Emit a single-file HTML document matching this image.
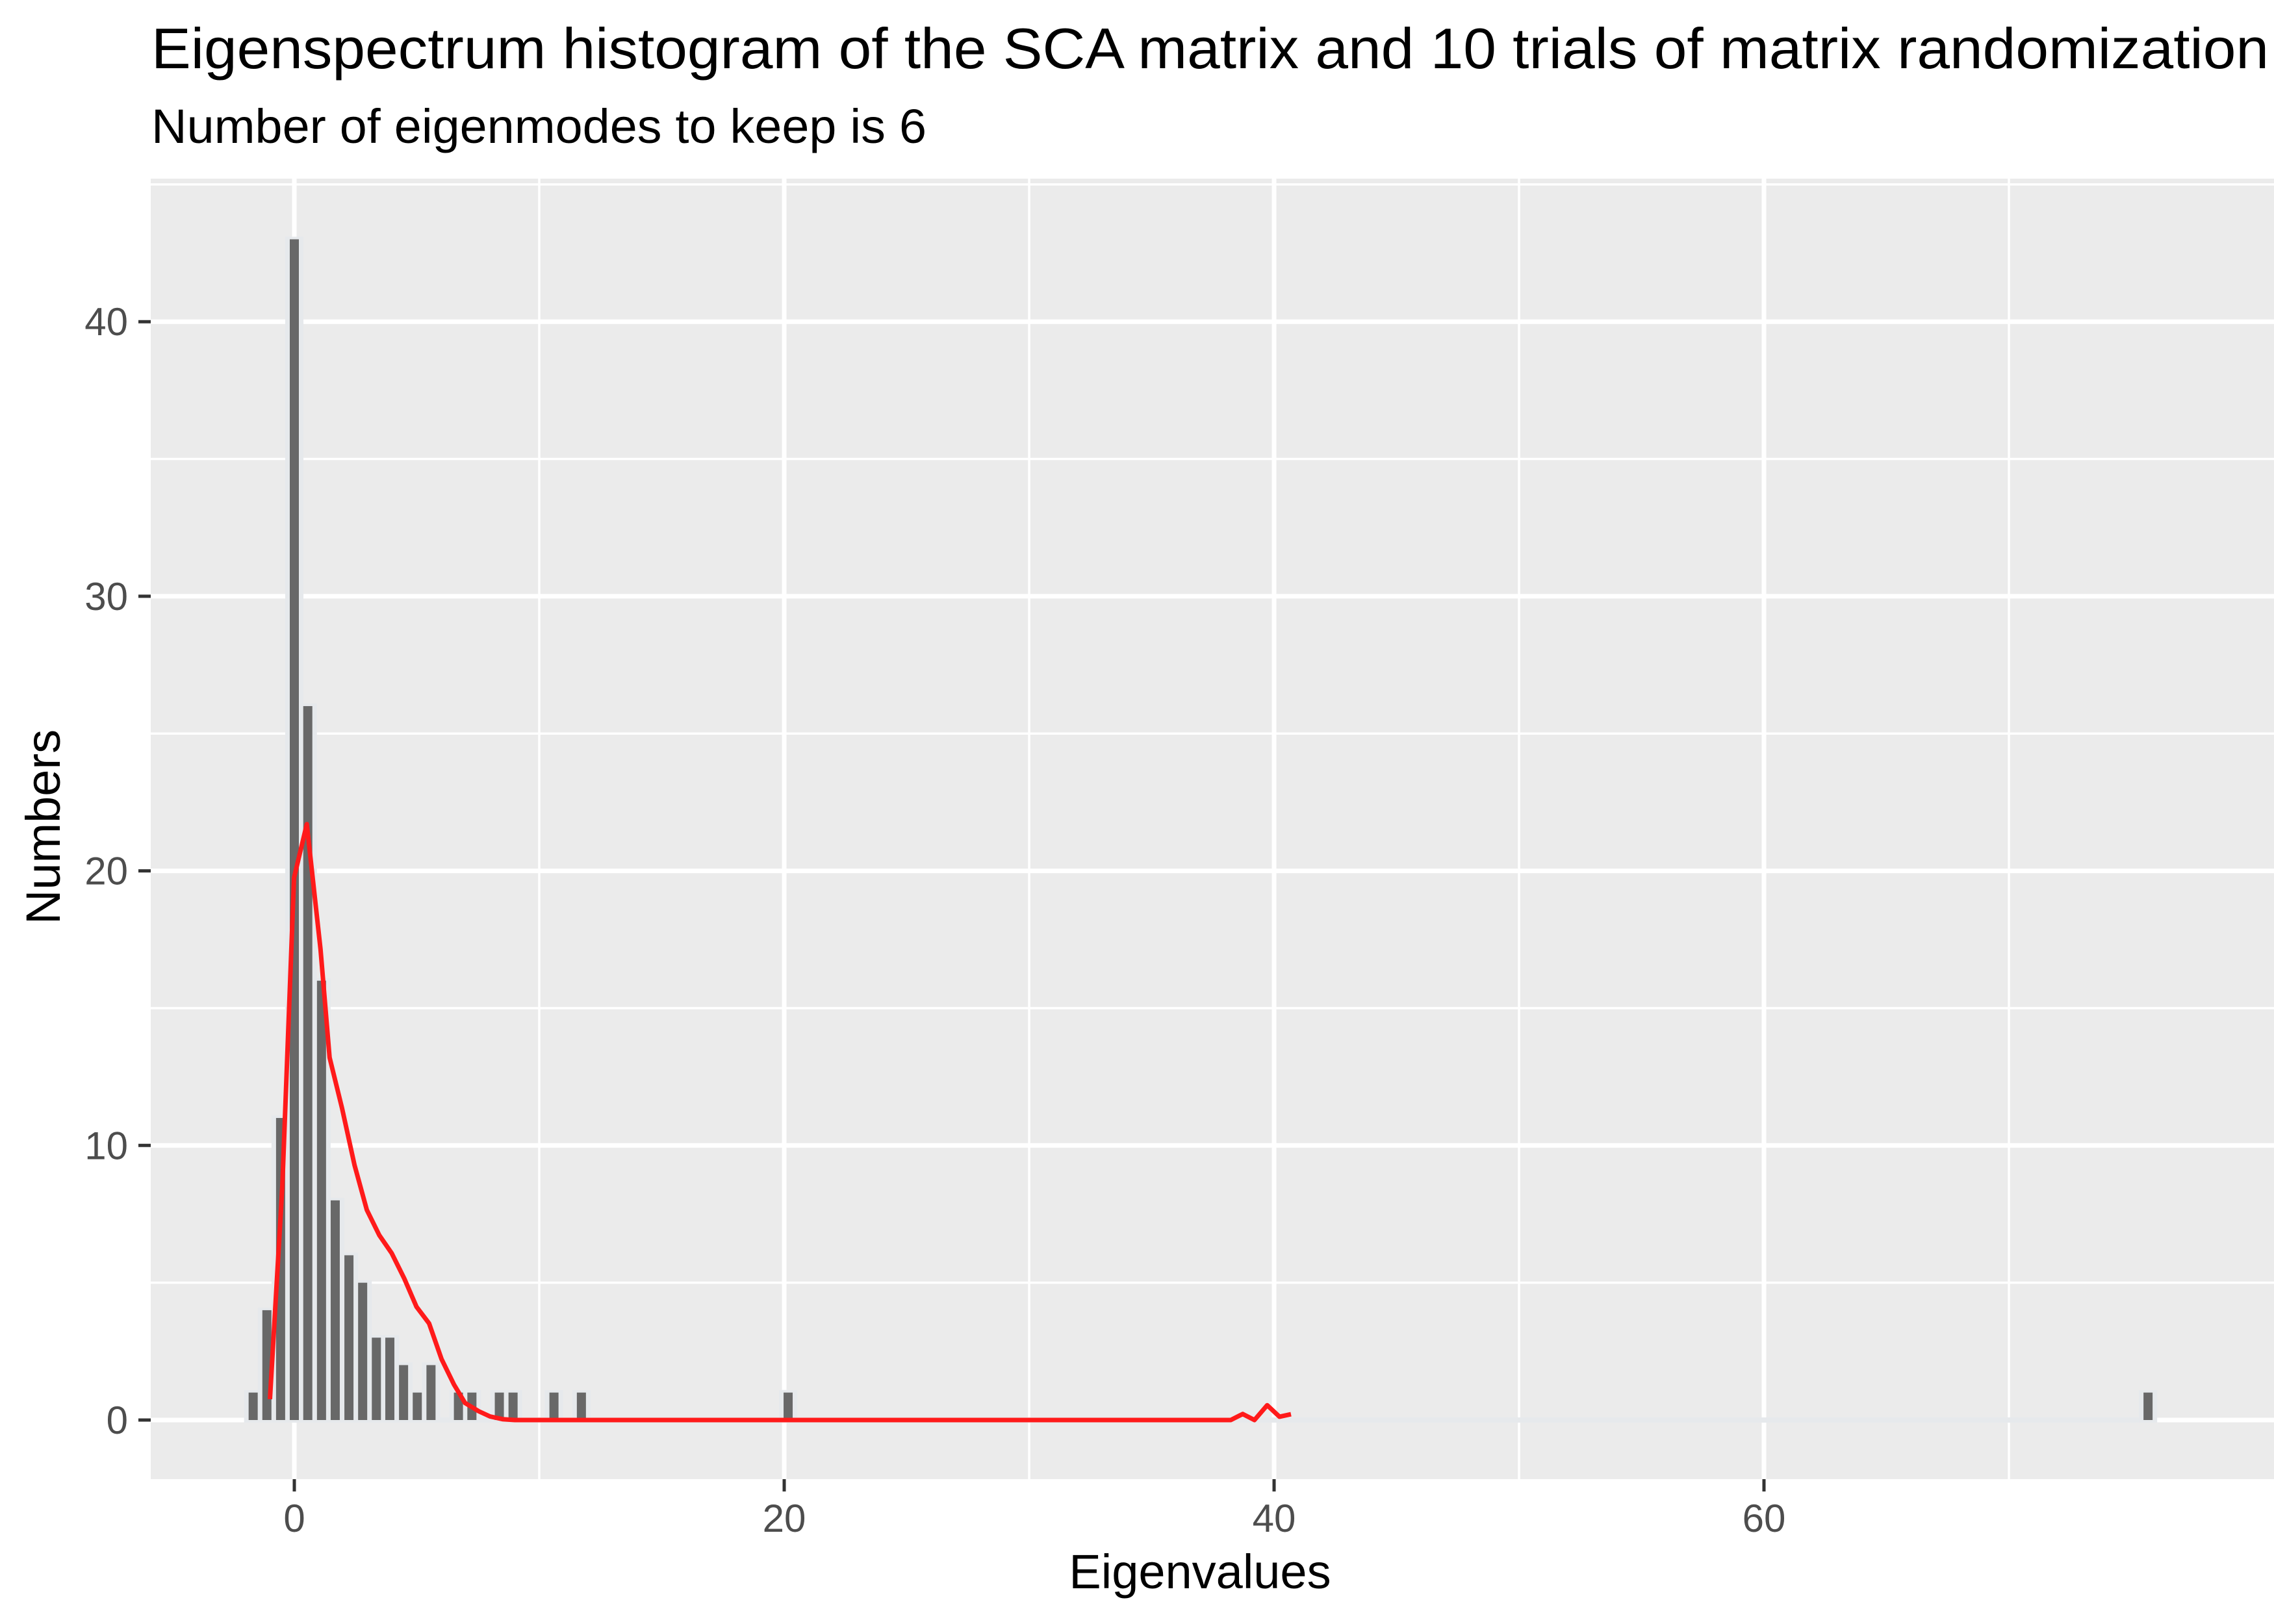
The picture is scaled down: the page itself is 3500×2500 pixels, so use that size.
<!DOCTYPE html>
<html><head><meta charset="utf-8"><style>html,body{margin:0;padding:0;background:#fff}svg{display:block}text{font-family:"Liberation Sans",sans-serif}</style></head>
<body>
<svg id="chart" width="3500" height="2500" viewBox="0 0 3500 2500" xmlns="http://www.w3.org/2000/svg">
<rect x="0" y="0" width="3500" height="2500" fill="#ffffff"/>
<text x="233" y="105" font-size="88" fill="#000" textLength="3259" lengthAdjust="spacingAndGlyphs">Eigenspectrum histogram of the SCA matrix and 10 trials of matrix randomization</text>
<text x="233" y="220" font-size="74" fill="#000" textLength="1193" lengthAdjust="spacingAndGlyphs">Number of eigenmodes to keep is 6</text>
<rect x="232" y="275" width="3268" height="2002" fill="#EBEBEB"/>
<g id="grid"></g>
<g id="bars"></g>
<g id="lines"></g>
<g id="axes"></g>
<text x="1847" y="2445" font-size="74" text-anchor="middle" fill="#000">Eigenvalues</text>
<text x="0" y="0" font-size="74" text-anchor="middle" fill="#000" transform="translate(92,1273) rotate(-90)">Numbers</text>
</svg>
<script>
const binCenters = [-1.68,-1.12,-0.56,0.0,0.55,1.11,1.67,2.23,2.79,3.35,3.90,4.46,5.02,5.58,6.70,7.25,8.37,8.93,10.60,11.72,20.16,75.68];
const binCounts  = [1,4,11,43,26,16,8,6,5,3,3,2,1,2,1,1,1,1,1,1,1,1];
const binWidth = 0.5584;
const lineX = [-0.995,-0.49,-0.01,0.51,1.07,1.44,1.95,2.46,2.96,3.47,3.98,4.49,4.99,5.50,6.01,6.52,6.97,7.53,7.99,8.50,9.0,38.23,38.72,39.2,39.72,40.22,40.69];
const lineY = [0.76,8.5,19.75,21.7,17.15,13.2,11.35,9.28,7.65,6.73,6.07,5.15,4.12,3.52,2.22,1.29,0.62,0.32,0.13,0.03,0,0,0.22,0,0.54,0.12,0.21];
const xTicks = [0,20,40,60];
const xMinor = [10,30,50,70];
const yTicks = [0,10,20,30,40];
const yMinor = [5,15,25,35,45];

const NS = 'http://www.w3.org/2000/svg';
const PL = 232, PR = 3500, PT = 275, PB = 2277;
function xs(v){ return 453 + v * 37.7; }
function ys(v){ return 2186 - v * 42.27; }
function mk(tag, attrs, parent){
  const e = document.createElementNS(NS, tag);
  for (const k in attrs) e.setAttribute(k, attrs[k]);
  parent.appendChild(e);
  return e;
}
const grid = document.getElementById('grid');
yMinor.forEach(v => {
  const y = ys(v); if (y < PT) return;
  const l = mk('line', {x1:PL, x2:PR, y1:y, y2:y, stroke:'#fff', 'stroke-width':3.5}, grid);
  
  
});
xMinor.forEach(v => {
  const x = xs(v);
  const l = mk('line', {x1:x, x2:x, y1:PT, y2:PB, stroke:'#fff', 'stroke-width':3.5}, grid);
  
  
});
yTicks.forEach(v => {
  const y = ys(v);
  const l = mk('line', {x1:PL, x2:PR, y1:y, y2:y, stroke:'#fff', 'stroke-width':7}, grid);
  
  
});
xTicks.forEach(v => {
  const x = xs(v);
  const l = mk('line', {x1:x, x2:x, y1:PT, y2:PB, stroke:'#fff', 'stroke-width':7}, grid);
  
  
});

const bars = document.getElementById('bars');
const first = binCenters[0] - binWidth/2, last = binCenters[binCenters.length-1] + binWidth/2;
const strip = mk('rect', {x:xs(first), y:ys(0)-4, width:xs(last)-xs(first), height:8, fill:'#E6E9EC'}, bars);


const pxBin = binWidth * 37.7;
binCenters.forEach((c, i) => {
  const cx = xs(c), top = ys(binCounts[i]);
  const o = mk('rect', {x:cx - pxBin/2 - 3.5, y:top - 4, width:pxBin + 7, height:ys(0) - top + 8, fill:'#E6E9EC'}, bars);
  
  
});
binCenters.forEach((c, i) => {
  const cx = xs(c), top = ys(binCounts[i]);
  const w = pxBin * 0.665;
  const r = mk('rect', {x:cx - w/2, y:top, width:w, height:ys(0) - top, fill:'#686868'}, bars);
  
  
});

const lines = document.getElementById('lines');
const pts = lineX.map((v, i) => xs(v).toFixed(1) + ',' + ys(lineY[i]).toFixed(1)).join(' ');
const pl = mk('polyline', {points:pts, fill:'none', stroke:'#FF1A1A', 'stroke-width':7, 'stroke-linejoin':'round'}, lines);



const axes = document.getElementById('axes');
xTicks.forEach(v => {
  const x = xs(v);
  const t = mk('line', {x1:x, x2:x, y1:PB, y2:PB + 19, stroke:'#333', 'stroke-width':5}, axes);
  
  
  const tx = mk('text', {x:x, y:2358, 'font-size':60, 'text-anchor':'middle', fill:'#4D4D4D'}, axes);
  tx.textContent = String(v);
  
  
});
yTicks.forEach(v => {
  const y = ys(v);
  const t = mk('line', {x1:PL - 19, x2:PL, y1:y, y2:y, stroke:'#333', 'stroke-width':5}, axes);
  
  
  const tx = mk('text', {x:197, y:y + 21, 'font-size':60, 'text-anchor':'end', fill:'#4D4D4D'}, axes);
  tx.textContent = String(v);
  
  
});
</script>
</body></html>
